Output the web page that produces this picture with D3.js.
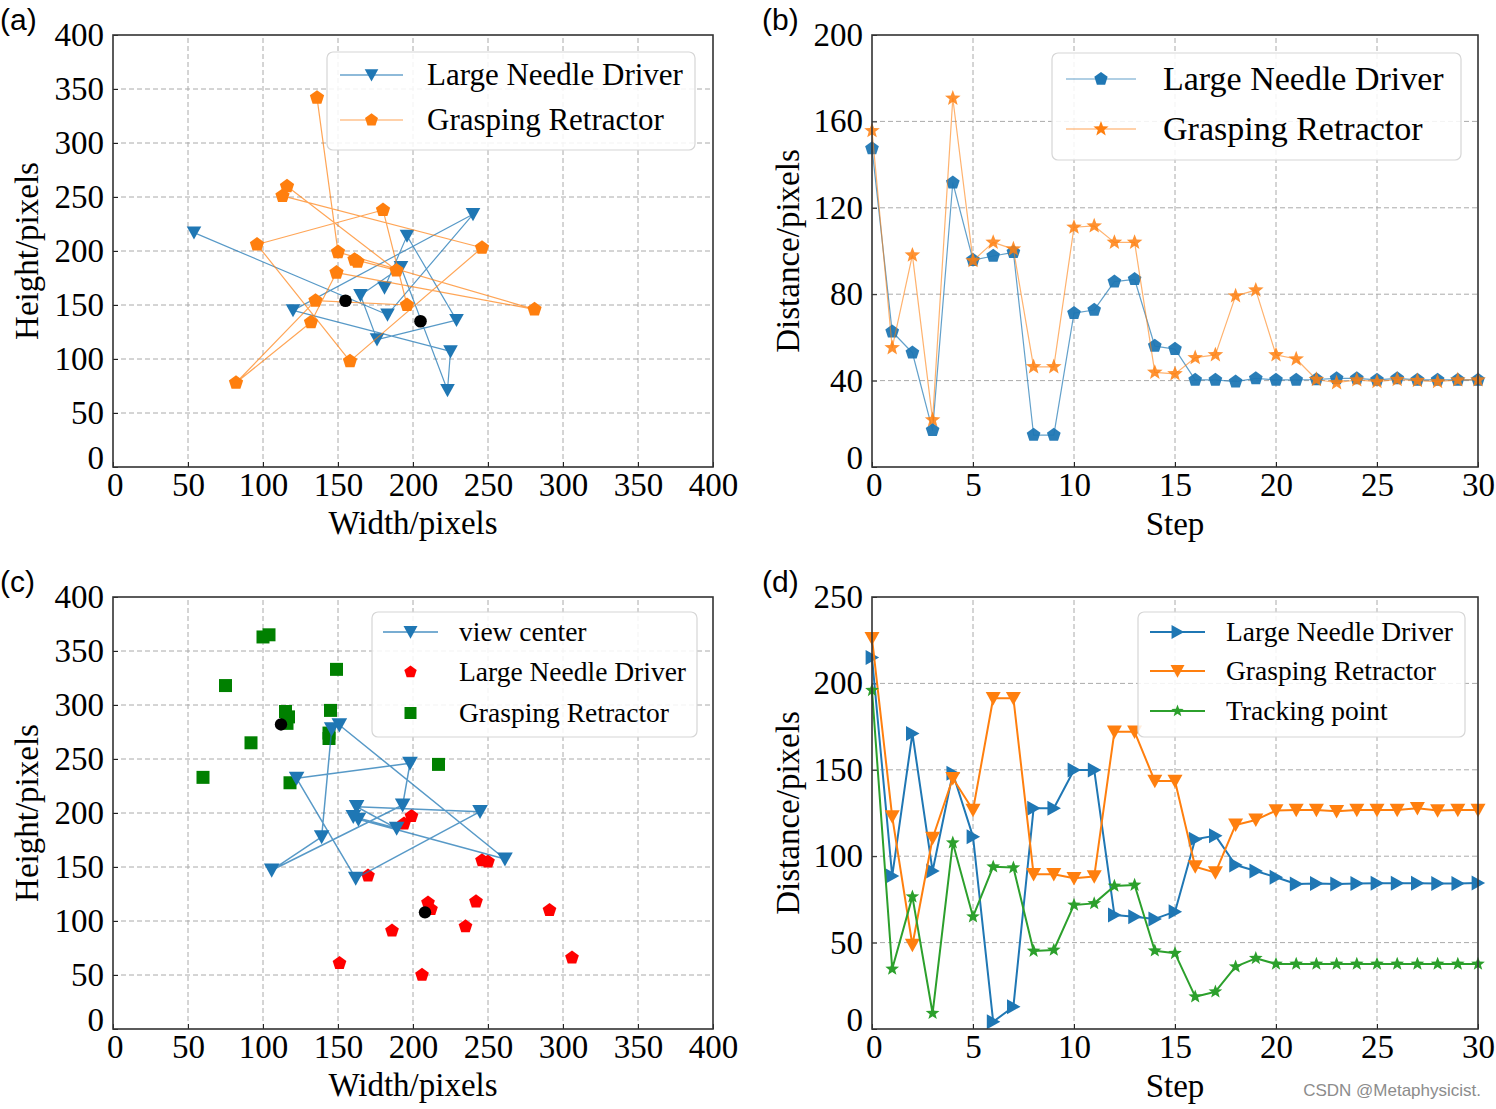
<!DOCTYPE html>
<html><head><meta charset="utf-8">
<script src="https://cdn.jsdelivr.net/npm/d3@7"></script>
<style>html,body{margin:0;padding:0;background:#fff}svg{display:block}</style>
</head><body>
<svg id="chart" width="1496" height="1109"></svg>
<script>
// ---------- DATA ----------
// Panel (a): positions (width px, height px)
const aNeedleX = [54, 183, 240, 120, 225, 223, 192, 165, 176, 229, 196, 181];
const aNeedleY = [217, 141, 234, 145, 107, 71, 185, 159, 118, 136, 214, 166];
const aRetractX = [136, 150, 281, 149, 132, 82, 135, 196, 180, 96, 158, 246, 113, 116, 189, 161, 163];
const aRetractY = [342, 199, 146, 180, 134, 78, 154, 150, 238, 206, 98, 203, 251, 260, 182, 192, 190];
const aBlackX = [155, 205];
const aBlackY = [154, 135];

// Panel (b): distance vs step
const bSteps = [0,1,2,3,4,5,6,7,8,9,10,11,12,13,14,15,16,17,18,19,20,21,22,23,24,25,26,27,28,29,30];
const bNeedle = [147.5,62.6,52.9,17.0,131.6,95.8,97.7,99.4,14.8,14.8,71.2,72.7,85.8,86.9,56.0,54.6,40.3,40.3,39.5,41.0,40.3,40.3,40.5,41.0,41.0,40.3,41.0,40.3,40.3,40.3,40.3];
const bRetract = [155.7,55.2,98.1,21.8,170.7,95.5,104.0,100.9,46.4,46.4,111.0,111.6,104.0,104.0,43.8,43.1,50.6,51.9,79.2,81.9,51.9,50.0,40.5,39.0,40.3,39.5,40.5,40.0,39.5,40.3,40.3];

// Panel (c): view center path and tool positions
const cViewX = [163.6, 261.3, 150.9, 145.8, 139.1, 105.8, 193.1, 198.0, 122.4, 161.8, 244.7, 162.4, 189.1, 160.2];
const cViewY = [194.2, 157.4, 281.5, 277.8, 178.0, 147.0, 207.4, 246.0, 232.1, 139.5, 201.2, 205.8, 185.8, 196.6];
const cNeedleX = [170, 186, 151, 194, 199, 246, 250, 210, 212, 242, 291, 235, 306, 206];
const cNeedleY = [142, 91, 61, 190, 197, 156, 155, 117, 111, 118, 110, 95, 66, 50];
const cRetractX = [100, 104, 75, 149, 115, 117, 116, 145, 144, 144, 92, 60, 118, 217];
const cRetractY = [363, 365, 318, 333, 294, 289, 283, 295, 274, 269, 265, 233, 228, 245];
const cBlackX = [112, 208];
const cBlackY = [282, 108];

// Panel (d): distance vs step
const dSteps = [0,1,2,3,4,5,6,7,8,9,10,11,12,13,14,15,16,17,18,19,20,21,22,23,24,25,26,27,28,29,30];
const dNeedle = [215,88.5,171,91.4,148,111.3,4.2,12.9,127.7,127.7,149.9,149.9,66,65,63.7,67.9,109.8,111.9,94.9,91.4,87.8,83.9,84.2,83.9,84.2,84.3,84.3,84.3,84.2,84.2,84.5];
const dRetract = [226,122.9,48.6,110.4,145.1,126.7,191.4,191.4,89.5,89.5,87.2,88.2,172,172,143.5,143.5,93.9,90.5,118.1,121,126.4,126.7,126.7,126.0,126.7,126.7,126.7,127.7,126.4,126.7,126.7];
const dTrack = [196,34.7,76.6,9.1,107.8,65,93.9,93.4,45.1,45.7,71.8,72.7,82.8,83.3,45.3,43.8,18.7,21.6,36.1,40.9,37.6,37.6,37.6,37.6,37.6,37.6,37.6,37.6,37.6,37.6,37.6];

const xyTicks = [0,50,100,150,200,250,300,350,400];
const stepTicks = [0,5,10,15,20,25,30];
const bYTicks = [0,40,80,120,160,200];
const dYTicks = [0,50,100,150,200,250];

// ---------- DRAWING ----------
const svg = d3.select("#chart");
const SERIF = "'Liberation Serif','Times New Roman',serif";
const C_BLUE = "#1f77b4", C_ORANGE = "#ff7f0e", C_GREEN = "#2ca02c";

function poly(n, r, inner) {
  const pts = [];
  const m = inner ? n * 2 : n;
  for (let i = 0; i < m; i++) {
    const a = -Math.PI / 2 + i * 2 * Math.PI / m;
    const rr = inner && (i % 2 === 1) ? r * inner : r;
    pts.push([rr * Math.cos(a), rr * Math.sin(a)]);
  }
  return "M" + pts.map(p => p[0].toFixed(2) + "," + p[1].toFixed(2)).join("L") + "Z";
}
const shapes = {
  triDown: r => `M0,${r*0.95}L${-r},${-r*0.85}L${r},${-r*0.85}Z`,
  triRight: r => `M${r*0.95},0L${-r*0.85},${-r}L${-r*0.85},${r}Z`,
  pent: r => poly(5, r),
  star: r => poly(5, r, 0.42),
  square: r => `M${-r},${-r}h${2*r}v${2*r}h${-2*r}Z`,
  circle: r => `M${r},0A${r},${r},0,1,1,${-r},0A${r},${r},0,1,1,${r},0Z`
};

function panel(o) {
  const g = svg.append("g");
  const [x0, x1] = o.x.range(), [y0, y1] = o.y.range();
  g.selectAll(null).data(o.xTicks.slice(1, -1)).enter().append("line")
    .attr("x1", d => o.x(d)).attr("x2", d => o.x(d)).attr("y1", y0).attr("y2", y1)
    .attr("stroke", "#aaaaaa").attr("stroke-width", 1).attr("stroke-dasharray", "5,3");
  g.selectAll(null).data(o.yTicks.slice(1, -1)).enter().append("line")
    .attr("y1", d => o.y(d)).attr("y2", d => o.y(d)).attr("x1", x0).attr("x2", x1)
    .attr("stroke", "#aaaaaa").attr("stroke-width", 1).attr("stroke-dasharray", "5,3");
  const ax = g.append("g").attr("transform", `translate(0,${y0})`)
    .call(d3.axisBottom(o.x).tickValues(o.xTicks).tickSize(-5).tickPadding(6));
  const ay = g.append("g").attr("transform", `translate(${x0},0)`)
    .call(d3.axisLeft(o.y).tickValues(o.yTicks).tickSize(-5).tickPadding(9));
  [ax, ay].forEach(a => {
    a.select(".domain").remove();
    a.selectAll("line").attr("stroke", "#222").attr("stroke-width", 1);
    a.selectAll("text").attr("font-family", SERIF).attr("font-size", 33).attr("fill", "#000");
  });
  ax.selectAll(".tick").filter(d => d === 0).select("text").attr("dx", "0.05em");
  ay.selectAll(".tick").filter(d => d === 0).select("text").attr("dy", "0.05em");
  g.append("text").attr("x", (x0 + x1) / 2).attr("y", o.xlY).attr("text-anchor", "middle")
    .attr("font-family", SERIF).attr("font-size", 33).text(o.xlabel);
  g.append("text").attr("transform", `translate(${o.ylX},${(y0 + y1) / 2}) rotate(-90)`)
    .attr("text-anchor", "middle").attr("font-family", SERIF).attr("font-size", 33).text(o.ylabel);
  svg.append("text").attr("x", o.tagX).attr("y", o.tagY)
    .attr("font-family", "'Liberation Sans',Arial,sans-serif").attr("font-size", 30).text(o.tag);
  return g;
}

function drawLine(g, xs, ys, xS, yS, color, width, opacity) {
  const pts = xs.map((v, i) => [xS(v), yS(ys[i])]);
  g.append("path").attr("d", d3.line()(pts)).attr("fill", "none")
    .attr("stroke", color).attr("stroke-width", width).attr("stroke-opacity", opacity)
    .attr("stroke-linejoin", "round");
}
function drawMarkers(g, xs, ys, xS, yS, shape, r, color, opacity) {
  g.selectAll(null).data(xs.map((v, i) => [v, ys[i]])).enter().append("path")
    .attr("transform", d => `translate(${xS(d[0])},${yS(d[1])})`)
    .attr("d", shapes[shape](r)).attr("fill", color).attr("fill-opacity", opacity || 1);
}
function frame(g, x, y) {
  const [x0, x1] = x.range(), [y0, y1] = y.range();
  g.append("rect").attr("x", x0).attr("y", y1).attr("width", x1 - x0).attr("height", y0 - y1)
    .attr("fill", "none").attr("stroke", "#333").attr("stroke-width", 1.6);
}
function legend(g, box, rows) {
  g.append("rect").attr("x", box.x).attr("y", box.y).attr("width", box.w).attr("height", box.h)
    .attr("rx", 6).attr("fill", "#fff").attr("fill-opacity", 0.85)
    .attr("stroke", "#d6d6d6").attr("stroke-width", 1.2);
  rows.forEach(r => {
    if (r.line) g.append("line").attr("x1", box.lx0).attr("x2", box.lx1).attr("y1", r.y).attr("y2", r.y)
      .attr("stroke", r.color).attr("stroke-width", r.lw).attr("stroke-opacity", r.lo || 1);
    g.append("path").attr("transform", `translate(${(box.lx0 + box.lx1) / 2},${r.y})`)
      .attr("d", shapes[r.shape](r.r)).attr("fill", r.mcolor || r.color);
    g.append("text").attr("x", box.tx).attr("y", r.y).attr("dy", "0.33em")
      .attr("font-family", SERIF).attr("font-size", box.fs).text(r.label);
  });
}

// ---- Panel (a)
const ax_ = d3.scaleLinear([0, 400], [113, 713]);
const ay_ = d3.scaleLinear([0, 400], [467, 35]);
const ga = panel({x: ax_, y: ay_, xTicks: xyTicks, yTicks: xyTicks, xlabel: "Width/pixels", ylabel: "Height/pixels",
  xlY: 534, ylX: 38, tag: "(a)", tagX: 0, tagY: 30});
drawLine(ga, aNeedleX, aNeedleY, ax_, ay_, C_BLUE, 1.2, 0.75);
drawMarkers(ga, aNeedleX, aNeedleY, ax_, ay_, "triDown", 7.3, C_BLUE);
drawLine(ga, aRetractX, aRetractY, ax_, ay_, C_ORANGE, 1.2, 0.7);
drawMarkers(ga, aRetractX, aRetractY, ax_, ay_, "pent", 7.5, C_ORANGE);
drawMarkers(ga, aBlackX, aBlackY, ax_, ay_, "circle", 6.3, "#000");
legend(ga, {x: 327, y: 52, w: 368, h: 98, lx0: 340, lx1: 403, tx: 427, fs: 31}, [
  {y: 75, color: C_BLUE, line: true, lw: 1.2, shape: "triDown", r: 6.8, label: "Large Needle Driver"},
  {y: 120, color: C_ORANGE, line: true, lw: 1.2, lo: 0.7, shape: "pent", r: 6.8, label: "Grasping Retractor"}]);
frame(ga, ax_, ay_);

// ---- Panel (b)
const bx_ = d3.scaleLinear([0, 30], [872, 1478]);
const by_ = d3.scaleLinear([0, 200], [467, 35]);
const gb = panel({x: bx_, y: by_, xTicks: stepTicks, yTicks: bYTicks, xlabel: "Step", ylabel: "Distance/pixels",
  xlY: 535, ylX: 799, tag: "(b)", tagX: 762, tagY: 30});
drawLine(gb, bSteps, bNeedle, bx_, by_, C_BLUE, 1.2, 0.7);
drawMarkers(gb, bSteps, bNeedle, bx_, by_, "pent", 7.2, C_BLUE, 0.95);
drawLine(gb, bSteps, bRetract, bx_, by_, C_ORANGE, 1.2, 0.6);
drawMarkers(gb, bSteps, bRetract, bx_, by_, "star", 8.2, C_ORANGE, 0.85);
legend(gb, {x: 1052, y: 53, w: 409, h: 107, lx0: 1066, lx1: 1136, tx: 1163, fs: 34}, [
  {y: 79, color: C_BLUE, line: true, lw: 1.2, lo: 0.7, shape: "pent", r: 7, label: "Large Needle Driver"},
  {y: 129, color: C_ORANGE, line: true, lw: 1.2, lo: 0.7, shape: "star", r: 8, label: "Grasping Retractor"}]);
frame(gb, bx_, by_);

// ---- Panel (c)
const cx_ = d3.scaleLinear([0, 400], [113, 713]);
const cy_ = d3.scaleLinear([0, 400], [1029, 597]);
const gc = panel({x: cx_, y: cy_, xTicks: xyTicks, yTicks: xyTicks, xlabel: "Width/pixels", ylabel: "Height/pixels",
  xlY: 1096, ylX: 38, tag: "(c)", tagX: 0, tagY: 592});
drawMarkers(gc, cNeedleX, cNeedleY, cx_, cy_, "pent", 7.2, "#ff0000");
drawMarkers(gc, cRetractX, cRetractY, cx_, cy_, "square", 6.5, "#008000");
drawLine(gc, cViewX, cViewY, cx_, cy_, C_BLUE, 1.5, 0.75);
drawMarkers(gc, cViewX, cViewY, cx_, cy_, "triDown", 7.8, C_BLUE);
drawMarkers(gc, cBlackX, cBlackY, cx_, cy_, "circle", 6.2, "#000");
legend(gc, {x: 372, y: 612, w: 325, h: 125, lx0: 383, lx1: 438, tx: 459, fs: 27.5}, [
  {y: 632, color: C_BLUE, line: true, lw: 1.5, lo: 0.8, shape: "triDown", r: 7, label: "view center"},
  {y: 672, color: "#ff0000", line: false, shape: "pent", r: 6.5, label: "Large Needle Driver"},
  {y: 713, color: "#008000", line: false, shape: "square", r: 6, label: "Grasping Retractor"}]);
frame(gc, cx_, cy_);

// ---- Panel (d)
const dx_ = d3.scaleLinear([0, 30], [872, 1478]);
const dy_ = d3.scaleLinear([0, 250], [1029, 597]);
const gd = panel({x: dx_, y: dy_, xTicks: stepTicks, yTicks: dYTicks, xlabel: "Step", ylabel: "Distance/pixels",
  xlY: 1097, ylX: 799, tag: "(d)", tagX: 762, tagY: 592});
drawLine(gd, dSteps, dNeedle, dx_, dy_, C_BLUE, 2, 1);
drawMarkers(gd, dSteps, dNeedle, dx_, dy_, "triRight", 7.5, C_BLUE);
drawLine(gd, dSteps, dRetract, dx_, dy_, C_ORANGE, 2, 1);
drawMarkers(gd, dSteps, dRetract, dx_, dy_, "triDown", 7.5, C_ORANGE);
drawLine(gd, dSteps, dTrack, dx_, dy_, C_GREEN, 2, 1);
drawMarkers(gd, dSteps, dTrack, dx_, dy_, "star", 7.2, C_GREEN);
legend(gd, {x: 1138, y: 612, w: 327, h: 125, lx0: 1150, lx1: 1205, tx: 1226, fs: 27.5}, [
  {y: 632, color: C_BLUE, line: true, lw: 2, shape: "triRight", r: 7, label: "Large Needle Driver"},
  {y: 671, color: C_ORANGE, line: true, lw: 2, shape: "triDown", r: 7, label: "Grasping Retractor"},
  {y: 711, color: C_GREEN, line: true, lw: 2, shape: "star", r: 6.5, label: "Tracking point"}]);
frame(gd, dx_, dy_);

// watermark
svg.append("text").attr("x", 1481).attr("y", 1096).attr("text-anchor", "end")
  .attr("font-family", "'Liberation Sans',Arial,sans-serif").attr("font-size", 17)
  .attr("fill", "#8c8c8c").text("CSDN @Metaphysicist.");
</script>
</body></html>
